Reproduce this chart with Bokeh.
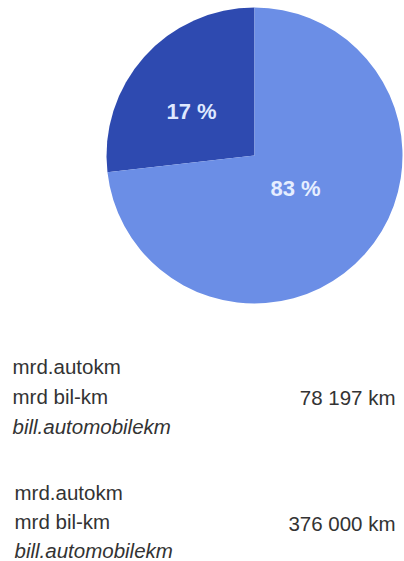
import math
from bokeh.plotting import figure
from bokeh.models import Range1d, ColumnDataSource
from bokeh.core.properties import value
from bokeh.embed import file_html
from bokeh.resources import INLINE

# Data
slice_names = ["dark", "light"]
slice_share = [26.8, 73.2]          # share of the circle as drawn
slice_labels = ["17 %", "83 %"]
slice_colors = ["#2e4ab0", "#6b8ee6"]
label_colors = ["#dfe8ff", "#e6eeff"]

unit_lines = ["mrd.autokm", "mrd bil-km", "bill.automobilekm"]
unit_styles = ["normal", "normal", "italic"]
distances = ["78 197 km", "376 000 km"]

W, H = 404, 561
p = figure(width=W, height=H, output_backend="svg", toolbar_location=None,
           x_range=Range1d(0, W), y_range=Range1d(0, H), min_border=0)
p.axis.visible = False
p.grid.visible = False
p.outline_line_color = None
p.background_fill_color = "white"
p.border_fill_color = "white"

def py(page_y):
    return H - page_y

cx, cy, r = 254, py(155), 148
start = 90.0
starts, ends = [], []
for s in slice_share:
    a = s / 100 * 360
    starts.append(math.radians(start))
    ends.append(math.radians(start + a))
    start += a
src = ColumnDataSource(dict(s=starts, e=ends, c=slice_colors))
p.wedge(x=cx, y=cy, radius=r, start_angle="s", end_angle="e",
        fill_color="c", line_color=None, source=src)

label_pos = [(191, 111), (295, 188)]
for (lx, ly), t, c in zip(label_pos, slice_labels, label_colors):
    p.text(x=[lx], y=[py(ly)], text=[t], text_color=c, text_font=value("Liberation Sans"),
           text_font_style="bold", text_font_size="22px", text_align="center",
           text_baseline="middle")

group_base = [366, 492]
group_x = [12, 14]
value_base = [397, 523]
line_gap = [30, 29]
for gb, gx, vb, d, lg in zip(group_base, group_x, value_base, distances, line_gap):
    for i, (ln, st) in enumerate(zip(unit_lines, unit_styles)):
        p.text(x=[gx], y=[py(gb + lg * i)], text=[ln], text_color="#333333",
               text_font=value("Liberation Sans"), text_font_style=st,
               text_font_size="20.5px", text_align="left", text_baseline="alphabetic")
    p.text(x=[395], y=[py(vb)], text=[d], text_color="#333333",
           text_font=value("Liberation Sans"), text_font_size="20.5px",
           text_align="right", text_baseline="alphabetic")

open("out.html", "w").write(file_html(p, INLINE))
